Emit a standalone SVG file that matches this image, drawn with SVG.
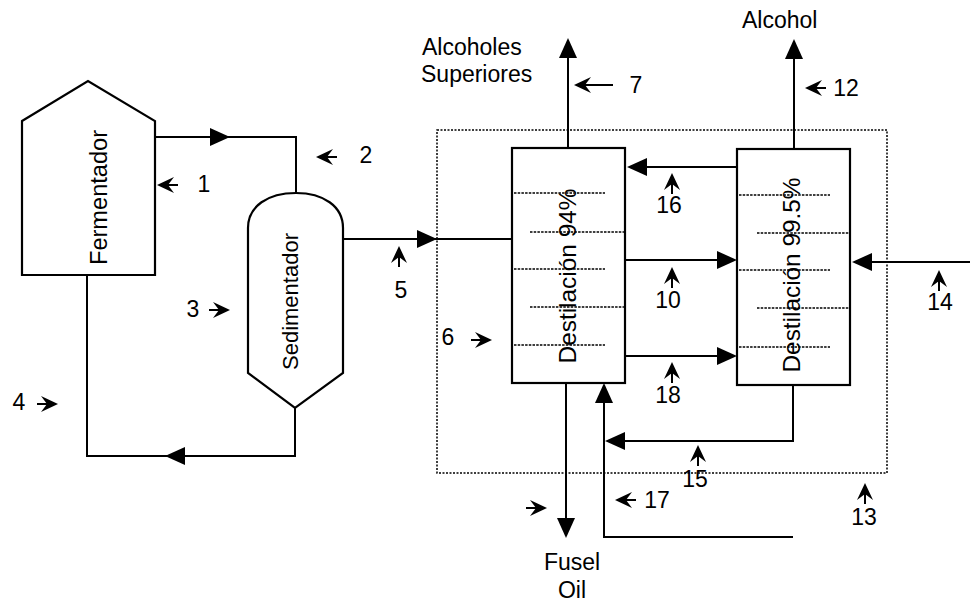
<svg xmlns="http://www.w3.org/2000/svg" xmlns:xlink="http://www.w3.org/1999/xlink" width="970" height="602" viewBox="0 0 970 602">
<style>
.t{font-family:"Liberation Sans",Arial,sans-serif;font-size:23px;fill:#000}
.eq{fill:#fff;stroke:#000;stroke-width:2.2}
.ln{fill:none;stroke:#000;stroke-width:2}
.tray{stroke:#000;stroke-width:1.5;stroke-dasharray:2.5 1.2}
.bound{fill:none;stroke:#000;stroke-width:1.5;stroke-dasharray:2 1.5}
</style>
<defs>
<path id="ah" d="M0,0 L-20,-9 L-20,9 Z" fill="#000"/>
<g id="la"><path d="M0,0 L-17,-8 L-11,0 L-17,8 Z" fill="#000"/><line x1="-11" y1="0" x2="-21" y2="0" stroke="#000" stroke-width="2"/></g>
</defs>
<rect width="970" height="602" fill="#fff"/>

<g id="sistema">
<rect class="bound" x="437" y="130" width="450" height="343"/>
</g>

<g id="fermentador">
<path class="eq" d="M22,121 L88,81 L155,121 L155,275 L22,275 Z"/>
<text class="t" transform="translate(107,197.5) rotate(-90)" text-anchor="middle" textLength="135" lengthAdjust="spacingAndGlyphs">Fermentador</text>
</g>

<g id="sedimentador">
<path class="eq" d="M296,193 C323,193 343,206 343,228 L343,373 L295,408 L248,373 L248,228 C248,206 268,193 296,193 Z"/>
<text class="t" style="font-size:22px" transform="translate(298,301.5) rotate(-90)" text-anchor="middle" textLength="137" lengthAdjust="spacingAndGlyphs">Sedimentador</text>
</g>

<g id="destilacion94">
<rect class="eq" x="512" y="148" width="113" height="235"/>
<line class="tray" x1="514" y1="193" x2="605" y2="193"/>
<line class="tray" x1="530" y1="232" x2="624" y2="232"/>
<line class="tray" x1="514" y1="269" x2="605" y2="269"/>
<line class="tray" x1="530" y1="307" x2="624" y2="307"/>
<line class="tray" x1="514" y1="345" x2="605" y2="345"/>
<text class="t" style="font-size:24px" transform="translate(576,276) rotate(-90)" text-anchor="middle" textLength="175" lengthAdjust="spacingAndGlyphs">Destilación 94%</text>
</g>

<g id="destilacion995">
<rect class="eq" x="737" y="149" width="113" height="236"/>
<line class="tray" x1="739" y1="195" x2="830" y2="195"/>
<line class="tray" x1="757" y1="233" x2="849" y2="233"/>
<line class="tray" x1="739" y1="270" x2="830" y2="270"/>
<line class="tray" x1="757" y1="308" x2="849" y2="308"/>
<line class="tray" x1="739" y1="347" x2="830" y2="347"/>
<text class="t" style="font-size:24px" transform="translate(800,275) rotate(-90)" text-anchor="middle" textLength="195" lengthAdjust="spacingAndGlyphs">Destilación 99.5%</text>
</g>

<g id="connectors">
<polyline class="ln" points="155,137 296,137 296,193"/>
<use href="#ah" transform="translate(230,137)"/>
<polyline class="ln" points="295,408 295,456 87,456 87,275"/>
<use href="#ah" transform="translate(165,456) rotate(180)"/>
<line class="ln" x1="343" y1="239" x2="512" y2="239"/>
<use href="#ah" transform="translate(437,239)"/>
<line class="ln" x1="568" y1="148" x2="568" y2="50"/>
<use href="#ah" transform="translate(568,38) rotate(-90)"/>
<line class="ln" x1="794" y1="149" x2="794" y2="50"/>
<use href="#ah" transform="translate(794,39) rotate(-90)"/>
<line class="ln" x1="737" y1="167" x2="635" y2="167"/>
<use href="#ah" transform="translate(627,167) rotate(180)"/>
<line class="ln" x1="625" y1="260" x2="728" y2="260"/>
<use href="#ah" transform="translate(737,260)"/>
<line class="ln" x1="970" y1="262" x2="860" y2="262"/>
<use href="#ah" transform="translate(852,262) rotate(180)"/>
<line class="ln" x1="625" y1="356" x2="728" y2="356"/>
<use href="#ah" transform="translate(737,356)"/>
<line class="ln" x1="566" y1="383" x2="566" y2="528"/>
<use href="#ah" transform="translate(566,538) rotate(90)"/>
<polyline class="ln" points="793,385 793,441 612,441"/>
<use href="#ah" transform="translate(605,441) rotate(180)"/>
<polyline class="ln" points="793,537 604,537 604,392"/>
<use href="#ah" transform="translate(604,383) rotate(-90)"/>
</g>

<g id="labels">
<text class="t" x="422" y="55">Alcoholes</text>
<text class="t" x="421" y="82">Superiores</text>
<text class="t" x="742" y="28">Alcohol</text>
<text class="t" x="572" y="570" text-anchor="middle">Fusel</text>
<text class="t" x="572" y="598" text-anchor="middle">Oil</text>
</g>

<g id="stream-numbers">
<use href="#la" transform="translate(157,185) rotate(180)"/>
<text class="t" x="204" y="192" text-anchor="middle">1</text>
<use href="#la" transform="translate(316,157) rotate(180)"/>
<text class="t" x="366" y="163" text-anchor="middle">2</text>
<use href="#la" transform="translate(230,310)"/>
<text class="t" x="193" y="317" text-anchor="middle">3</text>
<use href="#la" transform="translate(58,404)"/>
<text class="t" x="19" y="410" text-anchor="middle">4</text>
<use href="#la" transform="translate(399,246) rotate(-90)"/>
<text class="t" x="401" y="298" text-anchor="middle">5</text>
<use href="#la" transform="translate(492,340)"/>
<text class="t" x="448" y="345" text-anchor="middle">6</text>
<g transform="translate(574,85)"><path d="M0,0 L17,-8 L11,0 L17,8 Z" fill="#000"/><line x1="11" y1="0" x2="39" y2="0" stroke="#000" stroke-width="2"/></g>
<text class="t" x="636" y="93" text-anchor="middle">7</text>
<use href="#la" transform="translate(805,88) rotate(180)"/>
<text class="t" x="846" y="96" text-anchor="middle">12</text>
<use href="#la" transform="translate(672,173) rotate(-90)"/>
<text class="t" x="669" y="213" text-anchor="middle">16</text>
<use href="#la" transform="translate(672,267) rotate(-90)"/>
<text class="t" x="668" y="308" text-anchor="middle">10</text>
<use href="#la" transform="translate(672,362) rotate(-90)"/>
<text class="t" x="668" y="403" text-anchor="middle">18</text>
<use href="#la" transform="translate(698,445) rotate(-90)"/>
<text class="t" x="695" y="487" text-anchor="middle">15</text>
<use href="#la" transform="translate(865,483) rotate(-90)"/>
<text class="t" x="864" y="525" text-anchor="middle">13</text>
<use href="#la" transform="translate(615,500) rotate(180)"/>
<text class="t" x="657" y="508" text-anchor="middle">17</text>
<use href="#la" transform="translate(547,508)"/>
<use href="#la" transform="translate(939,270) rotate(-90)"/>
<text class="t" x="940" y="310" text-anchor="middle">14</text>
</g>
</svg>
